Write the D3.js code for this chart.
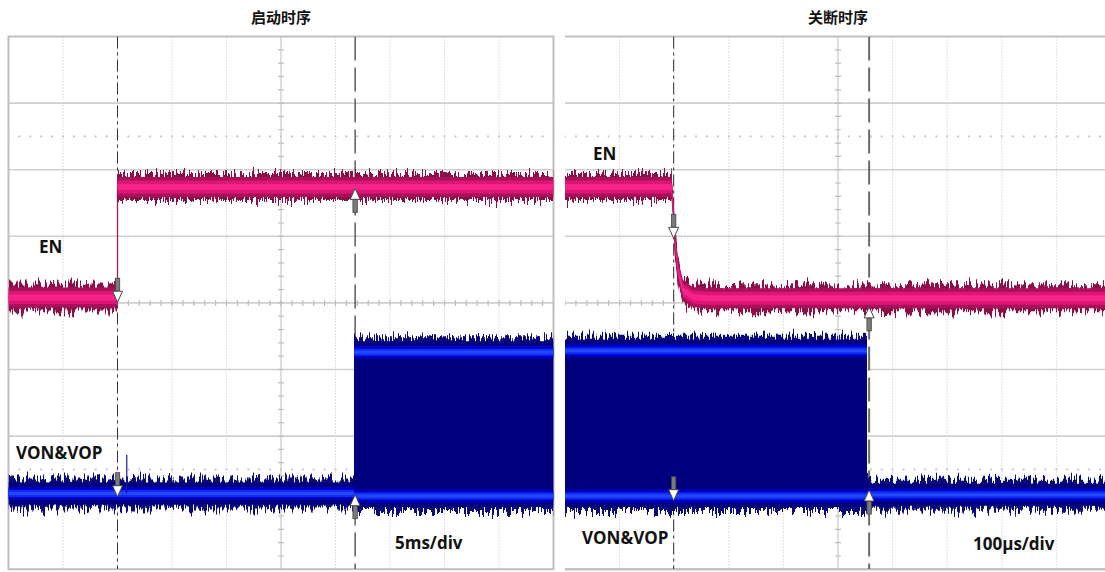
<!DOCTYPE html>
<html><head><meta charset="utf-8">
<script src="https://cdn.jsdelivr.net/npm/d3@7"></script>
<style>body{margin:0;background:#fff}svg{display:block}</style>
</head><body>
<script>
// ---------------- data (time in divisions 0..10, level in divisions -4..4) ----------------
const panelTitles = ["启动时序", "关断时序"];
const timeBaseLabels = ["5ms/div", "100μs/div"];
const channelLabels = ["EN", "VON&VOP"];
const divisionsX = d3.range(0, 11);
const divisionsY = d3.range(-4, 5);

// start-up panel
const enStartT = [0, 2.0, 2.0, 10];
const enStartV = [0.08, 0.08, 1.74, 1.74];
const outStartT = [0, 6.34, 6.34, 10];
const outStartHi = [-2.86, -2.86, -0.74, -0.74];
const outStartLo = [-2.86, -2.86, -2.9, -2.9];
const spikeT = [2.17, 2.17];
const spikeV = [-2.86, -2.28];
const cursorsStart = [2.0, 6.36];
const markersStartT = [2.0, 6.36, 2.0, 6.36];
const markersStartV = [0.01, 1.72, -2.91, -2.88];
const markersStartDir = ["down", "up", "down", "up"];

// shut-down panel
const enStopT = [0, 1.95, 1.98, 2.01, 2.07, 2.16, 2.34, 2.6, 10];
const enStopV = [1.74, 1.74, 1.45, 0.94, 0.49, 0.19, 0.09, 0.07, 0.07];
const outStopT = [0, 5.53, 5.53, 10];
const outStopHi = [-0.72, -0.72, -2.88, -2.88];
const outStopLo = [-2.9, -2.9, -2.88, -2.88];
const cursorsStop = [1.99, 5.57];
const markersStopT = [1.99, 5.57, 1.99, 5.57];
const markersStopV = [0.97, -0.06, -2.97, -2.81];
const markersStopDir = ["down", "up", "down", "up"];

// ---------------- drawing ----------------
const W = 1105, H = 572;
const svg = d3.select("body").append("svg").attr("width", W).attr("height", H)
  .style("background", "#fff");
const defs = svg.append("defs");

const f = defs.append("filter").attr("id", "jag").attr("filterUnits", "userSpaceOnUse")
  .attr("x", 0).attr("y", 0).attr("width", W).attr("height", H)
  .attr("color-interpolation-filters", "sRGB");
f.append("feTurbulence").attr("type", "fractalNoise").attr("baseFrequency", "0.55 0.03")
  .attr("numOctaves", 2).attr("seed", 7).attr("result", "n");
f.append("feColorMatrix").attr("in", "n").attr("type", "matrix")
  .attr("values", "1.6 0 0 0 -0.3  0 0 0 0 0.5  0 0 0 0 0  0 0 0 0 1").attr("result", "m");
f.append("feDisplacementMap").attr("in", "SourceGraphic").attr("in2", "m")
  .attr("scale", 16).attr("xChannelSelector", "G").attr("yChannelSelector", "R");

const TOP = 36.5, DIVH = 66.6;
const panelsGeom = [
  {x0: 8.5, divW: 54.5, clipW: 545, right: true},
  {x0: 565, divW: 54.6, clipW: 540, right: false}
];

const panelData = [
  {title: panelTitles[0], tb: timeBaseLabels[0],
   en: enStartT.map((t, i) => ({t, v: enStartV[i]})),
   out: outStartT.map((t, i) => ({t, hi: outStartHi[i], lo: outStartLo[i]})),
   cursors: cursorsStart,
   markers: markersStartT.map((t, i) => ({t, v: markersStartV[i], dir: markersStartDir[i]})),
   spike: spikeT.map((t, i) => ({t, v: spikeV[i]})),
   labels: [{txt: channelLabels[0], x: 39, y: 253}, {txt: channelLabels[1], x: 16, y: 459}, {txt: timeBaseLabels[0], x: 395, y: 549}]},
  {title: panelTitles[1], tb: timeBaseLabels[1],
   en: enStopT.map((t, i) => ({t, v: enStopV[i]})),
   out: outStopT.map((t, i) => ({t, hi: outStopHi[i], lo: outStopLo[i]})),
   cursors: cursorsStop,
   markers: markersStopT.map((t, i) => ({t, v: markersStopV[i], dir: markersStopDir[i]})),
   spike: null,
   labels: [{txt: channelLabels[0], x: 593, y: 160}, {txt: channelLabels[1], x: 582, y: 544}, {txt: timeBaseLabels[1], x: 973, y: 550}]}
];

panelData.forEach((pd, pi) => {
  const g0 = panelsGeom[pi];
  const x = d3.scaleLinear().domain([0, 10]).range([g0.x0, g0.x0 + 10 * g0.divW]);
  const y = d3.scaleLinear().domain([-4, 4]).range([TOP + 8 * DIVH, TOP]);
  const g = svg.append("g");
  const clipId = "clip" + pi;
  defs.append("clipPath").attr("id", clipId).append("rect")
    .attr("x", g0.x0).attr("y", TOP).attr("width", g0.clipW).attr("height", 8 * DIVH);

  // title
  svg.append("text").attr("x", x(5)).attr("y", 23).attr("text-anchor", "middle")
    .attr("font-family", "'Noto Sans CJK SC', sans-serif").attr("font-weight", 700)
    .attr("font-size", 15).attr("fill", "#111").text(pd.title);

  const grid = g.append("g").attr("clip-path", `url(#${clipId})`);
  // vertical dotted grid
  grid.selectAll(".vx").data(divisionsX.filter(d => d !== 5 && d > 0 && d < 10)).join("line")
    .attr("x1", d => x(d)).attr("x2", d => x(d)).attr("y1", y(4)).attr("y2", y(-4))
    .attr("stroke", "#c4c4c4").attr("stroke-width", 1).attr("stroke-dasharray", "1,2");
  // horizontal grid
  grid.selectAll(".hy").data(divisionsY.filter(d => d > -4 && d < 4)).join("line")
    .attr("x1", x(0)).attr("x2", x(10)).attr("y1", d => y(d)).attr("y2", d => y(d))
    .attr("stroke", "#cfcfcf").attr("stroke-width", 1.6);
  // centre vertical
  grid.append("line").attr("x1", x(5)).attr("x2", x(5)).attr("y1", y(4)).attr("y2", y(-4))
    .attr("stroke", "#cfcfcf").attr("stroke-width", 1.4);
  // minor ticks on centre axes
  const minorX = d3.range(0, 50.01, 1).map(d => d / 5);
  const minorY = d3.range(-20, 20.01, 1).map(d => d / 5);
  grid.selectAll(".tx").data(minorX).join("line")
    .attr("x1", d => x(d)).attr("x2", d => x(d)).attr("y1", y(0) - 3).attr("y2", y(0) + 3)
    .attr("stroke", "#bdbdbd").attr("stroke-width", 1.2);
  grid.selectAll(".ty").data(minorY).join("line")
    .attr("x1", x(5) - 3).attr("x2", x(5) + 3).attr("y1", d => y(d)).attr("y2", d => y(d))
    .attr("stroke", "#bdbdbd").attr("stroke-width", 1.2);
  // dotted rows at +-2.5 div
  [2.5, -2.5].forEach(lv => {
    grid.selectAll(null).data(minorX).join("rect")
      .attr("x", d => x(d) - 1).attr("y", y(lv) - 1).attr("width", 2).attr("height", 2)
      .attr("fill", "#c8c8c8");
  });

  // border
  const bx2 = g0.right ? x(10) : W + 5;
  g.append("path")
    .attr("d", `M${x(0)},${y(4)}H${bx2}` + (g0.right ? `V${y(-4)}` : `M${bx2},${y(-4)}`) + `H${x(0)}Z`)
    .attr("fill", "none").attr("stroke", "#bfbfbf").attr("stroke-width", 2);
  if (!g0.right) {
    g.append("line").attr("x1", x(0)).attr("x2", W).attr("y1", y(-4)).attr("y2", y(-4))
      .attr("stroke", "#bfbfbf").attr("stroke-width", 2);
  }

  // cursors
  const cur = g.append("g").attr("clip-path", `url(#${clipId})`);
  cur.append("line").attr("x1", x(pd.cursors[0])).attr("x2", x(pd.cursors[0]))
    .attr("y1", y(4)).attr("y2", y(-4)).attr("stroke", "#333").attr("stroke-width", 1)
    .attr("stroke-dasharray", "12,4,3,4");
  cur.append("line").attr("x1", x(pd.cursors[1])).attr("x2", x(pd.cursors[1]))
    .attr("y1", y(4)).attr("y2", y(-4)).attr("stroke", pi === 0 ? "#444" : "#6a6a6a")
    .attr("stroke-width", pi === 0 ? 1.3 : 2).attr("stroke-dasharray", "24,7");

  const traces = g.append("g").attr("clip-path", `url(#${clipId})`);
  const band = (acc, hw) => d3.area().x(d => x(d.t)).y0(d => y(acc(d)) + hw).y1(d => y(acc(d)) - hw);
  const env = (hw) => d3.area().x(d => x(d.t)).y0(d => y(d.lo) + hw).y1(d => y(d.hi) - hw);

  // output (blue)
  traces.append("path").attr("d", env(15)(pd.out)).attr("fill", "#0a0a7a").attr("filter", "url(#jag)");
  traces.append("path").attr("d", env(11)(pd.out)).attr("fill", "#00007e");
  ["hi", "lo"].forEach(k => {
    traces.append("path").attr("d", band(d => d[k], 6.5)(pd.out)).attr("fill", "#0000c4");
    traces.append("path").attr("d", band(d => d[k], 3.5)(pd.out)).attr("fill", "#0d2cf5");
    traces.append("path").attr("d", band(d => d[k], 1.5)(pd.out)).attr("fill", "#2448ff");
  });
  if (pd.spike) {
    traces.append("path").attr("d", d3.line().x(d => x(d.t)).y(d => y(d.v))(pd.spike))
      .attr("stroke", "#1a1aa0").attr("stroke-width", 1.2).attr("fill", "none");
  }

  // EN (magenta)
  traces.append("path").attr("d", d3.line().x(d => x(d.t)).y(d => y(d.v))(pd.en))
    .attr("stroke", "#b0125c").attr("stroke-width", 1.3).attr("fill", "none");
  traces.append("path").attr("d", band(d => d.v, 13)(pd.en)).attr("fill", "#8c0e46").attr("filter", "url(#jag)");
  traces.append("path").attr("d", band(d => d.v, 10)(pd.en)).attr("fill", "#a8115a");
  traces.append("path").attr("d", band(d => d.v, 6.5)(pd.en)).attr("fill", "#dc1577");
  traces.append("path").attr("d", band(d => d.v, 3)(pd.en)).attr("fill", "#f7238a");

  // cursor markers (arrows)
  const mk = g.append("g");
  pd.markers.forEach(m => {
    const cx = x(m.t), ty = y(m.v);
    const s = m.dir === "down" ? -1 : 1; // tail direction from tip
    const head = 11, len = 24;
    mk.append("rect").attr("x", cx - 2.2).attr("width", 4.4)
      .attr("y", Math.min(ty + s * head, ty + s * len)).attr("height", len - head)
      .attr("fill", "#7a7a7a").attr("stroke", "#444").attr("stroke-width", 0.8);
    mk.append("path")
      .attr("d", `M${cx},${ty}L${cx - 5},${ty + s * head}L${cx - 2},${ty + s * head}L${cx + 2},${ty + s * head}L${cx + 5},${ty + s * head}Z`)
      .attr("fill", "#fff").attr("stroke", "#444").attr("stroke-width", 1);
  });

  // labels
  pd.labels.forEach(l => {
    svg.append("text").attr("x", l.x).attr("y", l.y)
      .attr("font-family", "'Open Sans', 'Noto Sans', sans-serif").attr("font-weight", 700)
      .attr("font-size", 17).attr("fill", "#111").text(l.txt);
  });
});
</script>
</body></html>
